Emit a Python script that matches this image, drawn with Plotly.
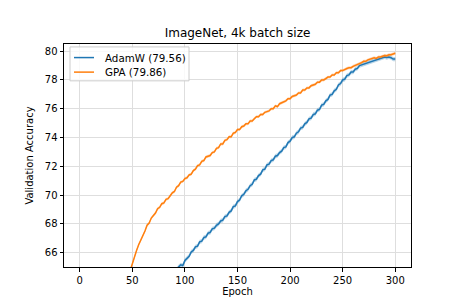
import plotly.graph_objects as go

# ---- data ----
gpa_epochs = list(range(46, 301, 2))
gpa_acc = [
    64.3, 64.8, 65.25, 65.7, 66.15, 66.55, 66.85, 67.25, 67.5, 67.9,
    68.05, 68.4, 68.6, 68.75, 69.05, 69.15, 69.4, 69.45, 69.7, 69.75,
    69.95, 70.15, 70.25, 70.55, 70.65, 70.9, 70.95, 71.15, 71.2, 71.4,
    71.45, 71.7, 71.8, 72.05, 72.1, 72.35, 72.4, 72.65, 72.7, 72.75,
    72.95, 73.0, 73.25, 73.3, 73.55, 73.55, 73.8, 73.85, 74.05, 74.05,
    74.3, 74.35, 74.55, 74.55, 74.75, 74.8, 74.95, 74.95, 75.15, 75.15,
    75.3, 75.45, 75.45, 75.6, 75.6, 75.75, 75.8, 75.85, 76.0, 76.0,
    76.2, 76.15, 76.35, 76.4, 76.5, 76.55, 76.7, 76.7, 76.85, 76.9,
    76.95, 77.1, 77.1, 77.3, 77.3, 77.45, 77.45, 77.6, 77.65, 77.7,
    77.85, 77.85, 78.0, 78.0, 78.1, 78.2, 78.2, 78.35, 78.35, 78.5,
    78.5, 78.65, 78.65, 78.75, 78.8, 78.85, 78.85, 78.95, 79.0, 79.1,
    79.1, 79.2, 79.3, 79.3, 79.4, 79.45, 79.45, 79.55, 79.5, 79.6,
    79.6, 79.65, 79.7, 79.68, 79.75, 79.75, 79.8, 79.86,
]
adamw_epochs = list(range(90, 301, 2))
adamw_acc = [
    64.6, 64.85, 65.0, 65.15, 65.1, 65.45, 65.6, 65.75, 66.05, 66.15,
    66.4, 66.45, 66.75, 66.8, 67.05, 67.1, 67.35, 67.4, 67.65, 67.7,
    67.9, 68.0, 68.2, 68.25, 68.5, 68.55, 68.8, 68.9, 69.2, 69.25,
    69.55, 69.65, 69.95, 70.05, 70.3, 70.4, 70.65, 70.75, 71.05, 71.1,
    71.35, 71.45, 71.75, 71.8, 72.1, 72.15, 72.4, 72.45, 72.7, 72.75,
    72.95, 73.05, 73.3, 73.35, 73.65, 73.75, 74.0, 74.05, 74.3, 74.4,
    74.65, 74.7, 74.95, 75.05, 75.3, 75.35, 75.6, 75.65, 75.9, 75.95,
    76.25, 76.3, 76.55, 76.65, 76.95, 77.0, 77.25, 77.35, 77.65, 77.75,
    78.0, 78.05, 78.3, 78.35, 78.55, 78.55, 78.75, 78.8, 79.0, 79.05,
    79.1, 79.2, 79.25, 79.3, 79.35, 79.4, 79.45, 79.5, 79.52, 79.55,
    79.6, 79.56, 79.6, 79.55, 79.45, 79.45,
]
adamw_std = 0.15
gpa_std = 0.1

series = [
    ("AdamW (79.56)", adamw_epochs, adamw_acc, adamw_std, "#1f77b4", "rgba(31,119,180,0.3)"),
    ("GPA (79.86)", gpa_epochs, gpa_acc, gpa_std, "#ff7f0e", "rgba(255,127,14,0.3)"),
]

x_ticks = [0, 50, 100, 150, 200, 250, 300]
y_ticks = [66, 68, 70, 72, 74, 76, 78, 80]

W, H = 449, 299
ML, MR, MT, MB = 56, 46, 36, 33
PW, PH = W - ML - MR, H - MT - MB


def px(xp):
    return (xp - ML) / PW


def py(yp):
    return (H - MB - yp) / PH


fig = go.Figure()
for name, xs, ys, sd, col, fillcol in series:
    fig.add_trace(go.Scatter(x=xs, y=[v + sd for v in ys], mode="lines",
                             line=dict(width=0), showlegend=False, hoverinfo="skip"))
    fig.add_trace(go.Scatter(x=xs, y=[v - sd for v in ys], mode="lines",
                             line=dict(width=0), fill="tonexty", fillcolor=fillcol,
                             showlegend=False, hoverinfo="skip"))
    fig.add_trace(go.Scatter(x=xs, y=ys, mode="lines", name=name, showlegend=False,
                             line=dict(color=col, width=1.5)))

# manual legend (matplotlib-style box)
shapes = [dict(type="rect", xref="paper", yref="paper",
               x0=px(62), x1=px(181), y0=py(74), y1=py(39),
               line=dict(color="#cccccc", width=1), fillcolor="rgba(255,255,255,0.8)",
               layer="above")]
annotations = []
for i, (name, xs, ys, sd, col, fillcol) in enumerate(series):
    yrow = 50 + 15 * i
    shapes.append(dict(type="line", xref="paper", yref="paper",
                       x0=px(66), x1=px(86), y0=py(yrow), y1=py(yrow),
                       line=dict(color=col, width=1.5), layer="above"))
    annotations.append(dict(text=name, xref="paper", yref="paper", x=px(95), y=py(yrow),
                            xanchor="left", yanchor="middle", showarrow=False,
                            font=dict(size=10.3, color="black")))

font = "DejaVu Sans"
fig.update_layout(
    width=W, height=H,
    margin=dict(l=ML, r=MR, t=MT, b=MB),
    paper_bgcolor="white", plot_bgcolor="white",
    font=dict(family=font, size=10, color="black"),
    title=dict(text="ImageNet, 4k batch size", x=0.5, xref="paper", xanchor="center",
               y=1 - 25 / H, yanchor="middle", font=dict(size=12)),
    showlegend=False,
    shapes=shapes,
    annotations=annotations,
)
fig.update_xaxes(
    range=[-15, 315], tickvals=x_ticks, ticks="outside", ticklen=3.5, tickcolor="black",
    showgrid=True, gridcolor="#dedede", gridwidth=1, zeroline=False,
    showline=True, linecolor="black", linewidth=1, mirror=True,
    title=dict(text="Epoch", standoff=2, font=dict(size=10)),
)
fig.update_yaxes(
    range=[65, 80.5], tickvals=y_ticks, ticks="outside", ticklen=3.5, tickcolor="black",
    showgrid=True, gridcolor="#dedede", gridwidth=1, zeroline=False,
    showline=True, linecolor="black", linewidth=1, mirror=True,
    title=dict(text="Validation Accuracy", standoff=9, font=dict(size=10)),
)

fig.write_html("out.html")
